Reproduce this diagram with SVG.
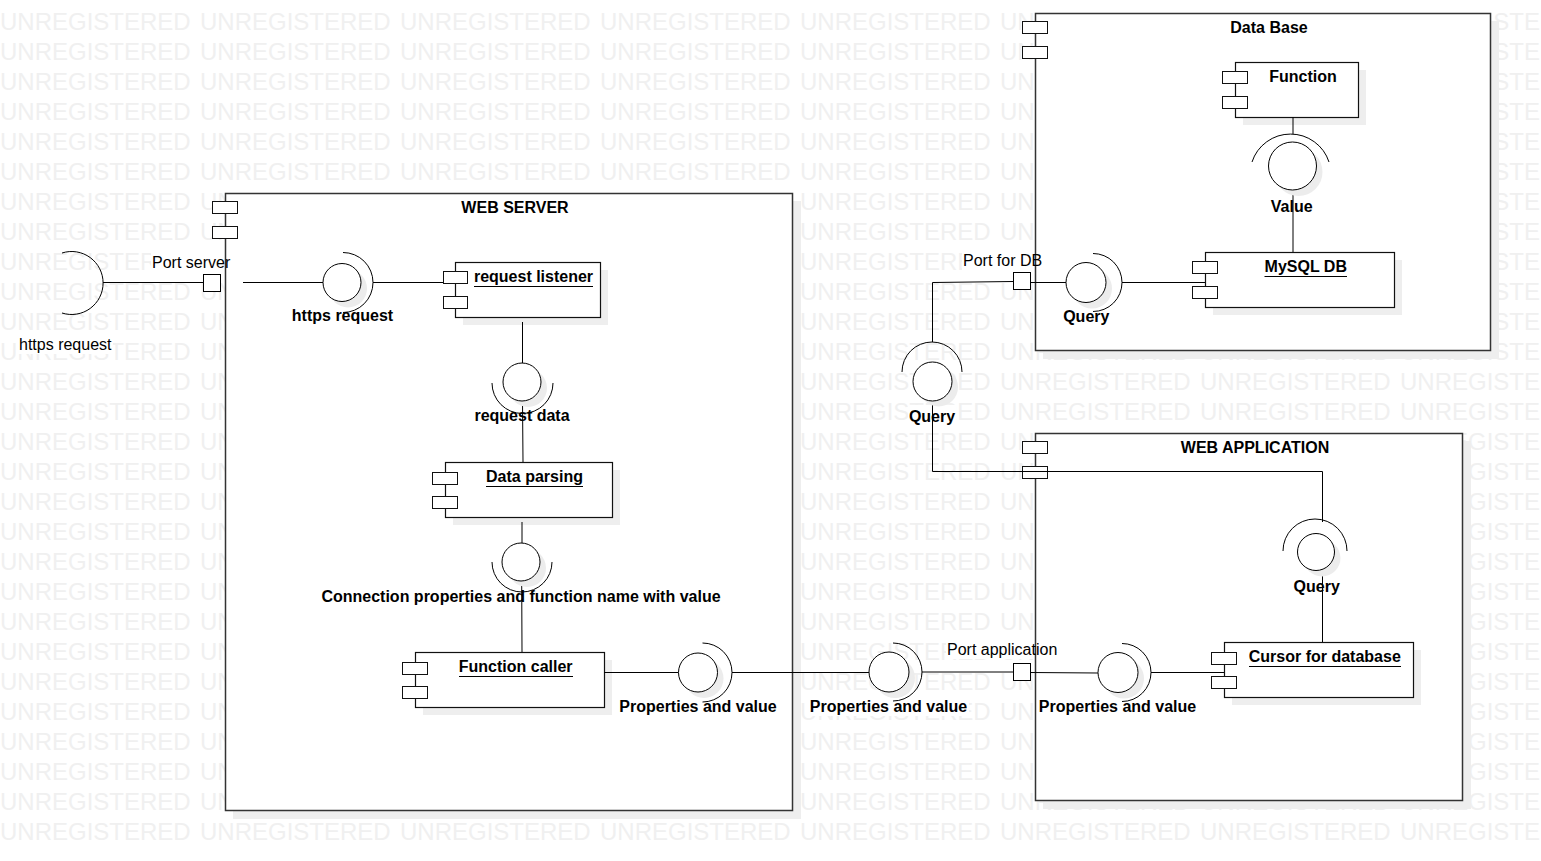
<svg xmlns="http://www.w3.org/2000/svg" xmlns:xlink="http://www.w3.org/1999/xlink" width="1541" height="861" viewBox="0 0 1541 861">
<style>
.wm{font-family:"Liberation Sans",Arial,sans-serif;font-size:24px;fill:#f0f0f0}
.t{font-family:"Liberation Sans",Arial,sans-serif;font-size:16px;fill:#000}
.b{font-weight:bold}
.m{text-anchor:middle}
.bg{fill:#fff}
.sh{fill:#eeeeee}
.outer{fill:#fff;stroke:#333;stroke-width:1.5}
.box{fill:#fff;stroke:#111;stroke-width:1.2}
.ico{fill:#fff;stroke:#111;stroke-width:1}
.ln{fill:none;stroke:#000;stroke-width:1}
.ball{fill:#fff;stroke:#000;stroke-width:1}
.csh{fill:#ececec}
.ul{stroke:#000;stroke-width:1}
</style>
<defs>
<text id="wm" class="wm" y="29.5"><tspan x="0">UNREGISTERED</tspan><tspan x="200">UNREGISTERED</tspan><tspan x="400">UNREGISTERED</tspan><tspan x="600">UNREGISTERED</tspan><tspan x="800">UNREGISTERED</tspan><tspan x="1000">UNREGISTERED</tspan><tspan x="1200">UNREGISTERED</tspan><tspan x="1400">UNREGISTERED</tspan></text>
</defs>
<rect width="1541" height="861" fill="#fff"/>
<g id="watermark">
<use xlink:href="#wm" y="0"/><use xlink:href="#wm" y="30"/><use xlink:href="#wm" y="60"/><use xlink:href="#wm" y="90"/>
<use xlink:href="#wm" y="120"/><use xlink:href="#wm" y="150"/><use xlink:href="#wm" y="180"/><use xlink:href="#wm" y="210"/>
<use xlink:href="#wm" y="240"/><use xlink:href="#wm" y="270"/><use xlink:href="#wm" y="300"/><use xlink:href="#wm" y="330"/>
<use xlink:href="#wm" y="360"/><use xlink:href="#wm" y="390"/><use xlink:href="#wm" y="420"/><use xlink:href="#wm" y="450"/>
<use xlink:href="#wm" y="480"/><use xlink:href="#wm" y="510"/><use xlink:href="#wm" y="540"/><use xlink:href="#wm" y="570"/>
<use xlink:href="#wm" y="600"/><use xlink:href="#wm" y="630"/><use xlink:href="#wm" y="660"/><use xlink:href="#wm" y="690"/>
<use xlink:href="#wm" y="720"/><use xlink:href="#wm" y="750"/><use xlink:href="#wm" y="780"/><use xlink:href="#wm" y="810"/>
</g>
<g id="label-backgrounds">
<rect class="bg" x="151" y="253" width="81" height="19"/>
<rect class="bg" x="18" y="335" width="95" height="19"/>
<rect class="bg" x="962" y="251" width="81" height="19"/>
<rect class="bg" x="908" y="405" width="48" height="20"/>
<rect class="bg" x="946" y="640" width="115" height="19"/>
<rect class="bg" x="808" y="696" width="161" height="20"/>
</g>
<g id="web-server">
<rect class="sh" x="233" y="201" width="568" height="618"/>
<rect class="outer" x="225.5" y="193.5" width="567" height="617"/>
<rect class="ico" x="212.5" y="201.5" width="25" height="12"/>
<rect class="ico" x="212.5" y="226.5" width="25" height="12"/>
<text class="t b m" x="515" y="213">WEB SERVER</text>
</g>
<g id="data-base">
<rect class="sh" x="1043" y="21" width="456" height="338"/>
<rect class="outer" x="1035.5" y="13.5" width="455" height="337"/>
<rect class="ico" x="1022.5" y="21.5" width="25" height="12"/>
<rect class="ico" x="1022.5" y="46.5" width="25" height="12"/>
<text class="t b m" x="1269" y="33">Data Base</text>
</g>
<g id="web-application">
<rect class="sh" x="1043" y="441" width="428" height="368"/>
<rect class="outer" x="1035.5" y="433.5" width="427" height="367"/>
<rect class="ico" x="1022.5" y="441.5" width="25" height="12"/>
<rect class="ico" x="1022.5" y="466.5" width="25" height="12"/>
<text class="t b m" x="1255" y="453">WEB APPLICATION</text>
</g>
<g id="request-listener">
<rect class="sh" x="463" y="270" width="145" height="55"/>
<rect class="box" x="455.5" y="262.5" width="145" height="55"/>
<rect class="ico" x="443.5" y="271.5" width="24" height="12"/>
<rect class="ico" x="443.5" y="296.5" width="24" height="12"/>
<text class="t b m" x="533.5" y="282">request listener</text>
<line class="ul" x1="474" y1="286.5" x2="593" y2="286.5"/>
</g>
<g id="data-parsing">
<rect class="sh" x="453" y="470" width="167" height="55"/>
<rect class="box" x="445.5" y="462.5" width="167" height="55"/>
<rect class="ico" x="432.5" y="472.5" width="25" height="12"/>
<rect class="ico" x="432.5" y="496.5" width="25" height="12"/>
<text class="t b m" x="534.5" y="482">Data parsing</text>
<line class="ul" x1="486" y1="486.5" x2="583" y2="486.5"/>
</g>
<g id="function-caller">
<rect class="sh" x="423" y="660" width="189" height="55"/>
<rect class="box" x="415.5" y="652.5" width="189" height="55"/>
<rect class="ico" x="402.5" y="662.5" width="25" height="12"/>
<rect class="ico" x="402.5" y="686.5" width="25" height="12"/>
<text class="t b m" x="515.7" y="672">Function caller</text>
<line class="ul" x1="459" y1="676.5" x2="573" y2="676.5"/>
</g>
<g id="function">
<rect class="sh" x="1243" y="70" width="123" height="55"/>
<rect class="box" x="1235.5" y="62.5" width="123" height="55"/>
<rect class="ico" x="1222.5" y="71.5" width="25" height="12"/>
<rect class="ico" x="1222.5" y="96.5" width="25" height="12"/>
<text class="t b m" x="1303" y="82">Function</text>
</g>
<g id="mysql-db">
<rect class="sh" x="1213" y="260" width="189" height="55"/>
<rect class="box" x="1205.5" y="252.5" width="189" height="55"/>
<rect class="ico" x="1192.5" y="261.5" width="25" height="12"/>
<rect class="ico" x="1192.5" y="286.5" width="25" height="12"/>
<text class="t b m" x="1305.8" y="272">MySQL DB</text>
<line class="ul" x1="1264.5" y1="276.5" x2="1347" y2="276.5"/>
</g>
<g id="cursor-for-database">
<rect class="sh" x="1232" y="650" width="189" height="55"/>
<rect class="box" x="1224.5" y="642.5" width="189" height="55"/>
<rect class="ico" x="1211.5" y="652.5" width="25" height="12"/>
<rect class="ico" x="1211.5" y="676.5" width="25" height="12"/>
<text class="t b m" x="1324.8" y="662">Cursor for database</text>
<line class="ul" x1="1249" y1="666.5" x2="1401" y2="666.5"/>
</g>
<g id="connectors">
<path class="ln" d="M103,282.5 L204,282.5"/>
<path class="ln" d="M243,282.5 L323,282.5"/>
<path class="ln" d="M373,282.5 L443,282.5"/>
<path class="ln" d="M522.5,322 L522.5,363"/>
<path class="ln" d="M522.5,401 L523,462"/>
<path class="ln" d="M522,522 L522,543"/>
<path class="ln" d="M521.7,581 L522,652"/>
<path class="ln" d="M604,672.5 L678.5,672.5"/>
<path class="ln" d="M732,672.5 L869,672.5"/>
<path class="ln" d="M922,672 L1013.5,672"/>
<path class="ln" d="M1030.5,672.5 L1098,673"/>
<path class="ln" d="M1151,672.5 L1224,672.5"/>
<path class="ln" d="M1031,282.5 L1066,282.5"/>
<path class="ln" d="M1122,282.5 L1205,282.5"/>
<path class="ln" d="M1013.5,281.5 L932.5,282.5 L932.5,342"/>
<path class="ln" d="M932.5,401 L932.5,471.5 L1322.5,471.5 L1322.5,522"/>
<path class="ln" d="M1322.5,571 L1322.5,642"/>
<path class="ln" d="M1293,117 L1293,134"/>
<path class="ln" d="M1293,190 L1293,252"/>
</g>
<g id="port-server">
<rect class="ball" x="203.5" y="274.5" width="17" height="17"/>
<text class="t" x="152" y="268">Port server</text>
</g>
<g id="port-for-db">
<rect class="ball" x="1013.5" y="272.5" width="17" height="17"/>
<text class="t" x="963" y="266">Port for DB</text>
</g>
<g id="port-application">
<rect class="ball" x="1013.5" y="663.5" width="17" height="17"/>
<text class="t" x="947" y="655">Port application</text>
</g>
<g id="iface-https-request-external">
<path class="ln" d="M62,253 A31.5,31.5 0 1 1 62,313"/>
<text class="t" x="19" y="350">https request</text>
</g>
<g id="iface-https-request">
<circle class="csh" cx="348" cy="288.5" r="19"/>
<circle class="ball" cx="342" cy="282.5" r="19"/>
<path class="ln" d="M343,252.5 A30,30 0 0 1 343,312.5"/>
<text class="t b m" x="342.5" y="321">https request</text>
</g>
<g id="iface-request-data">
<circle class="csh" cx="528" cy="388" r="19"/>
<circle class="ball" cx="522" cy="382" r="19"/>
<path class="ln" d="M492,383 A30.5,30.5 0 0 0 553,383"/>
<text class="t b m" x="522" y="421">request data</text>
</g>
<g id="iface-connection-properties">
<circle class="csh" cx="527" cy="568" r="19"/>
<circle class="ball" cx="521" cy="562" r="19"/>
<path class="ln" d="M492,562 A30,30 0 0 0 552,562"/>
<text class="t b m" x="521" y="602">Connection properties and function name with value</text>
</g>
<g id="iface-properties-server">
<circle class="csh" cx="704" cy="678.5" r="19.5"/>
<circle class="ball" cx="698" cy="672.5" r="19.5"/>
<path class="ln" d="M702.5,643 A29.5,29.5 0 0 1 702.5,702"/>
<text class="t b m" x="698" y="712">Properties and value</text>
</g>
<g id="iface-properties-middle">
<circle class="csh" cx="895" cy="678" r="20"/>
<circle class="ball" cx="889" cy="672" r="20"/>
<path class="ln" d="M893,643 A29,29 0 0 1 893,701"/>
<text class="t b m" x="888.5" y="712">Properties and value</text>
</g>
<g id="iface-properties-application">
<circle class="csh" cx="1124" cy="678.5" r="20"/>
<circle class="ball" cx="1118" cy="672.5" r="20"/>
<path class="ln" d="M1122,643.5 A29,29 0 0 1 1122,701.5"/>
<text class="t b m" x="1117.5" y="712">Properties and value</text>
</g>
<g id="iface-query-db">
<circle class="csh" cx="1092" cy="288.5" r="20"/>
<circle class="ball" cx="1086" cy="282.5" r="20"/>
<path class="ln" d="M1093,253.5 A29,29 0 0 1 1093,311.5"/>
<text class="t b m" x="1086.3" y="322">Query</text>
</g>
<g id="iface-query-link">
<circle class="csh" cx="938.5" cy="387" r="19.5"/>
<circle class="ball" cx="932.5" cy="381.5" r="19.5"/>
<path class="ln" d="M902,372 A30,30 0 0 1 962,372"/>
<text class="t b m" x="932" y="422">Query</text>
</g>
<g id="iface-query-application">
<circle class="csh" cx="1322" cy="558" r="18.5"/>
<circle class="ball" cx="1316" cy="552" r="18.5"/>
<path class="ln" d="M1283,551 A32,32 0 0 1 1347,551"/>
<text class="t b m" x="1316.7" y="592">Query</text>
</g>
<g id="iface-value">
<circle class="csh" cx="1298.5" cy="172" r="24"/>
<circle class="ball" cx="1292.5" cy="166" r="24"/>
<path class="ln" d="M1252,162 A40.5,40.5 0 0 1 1329,162"/>
<text class="t b m" x="1291.7" y="212">Value</text>
</g>
</svg>
